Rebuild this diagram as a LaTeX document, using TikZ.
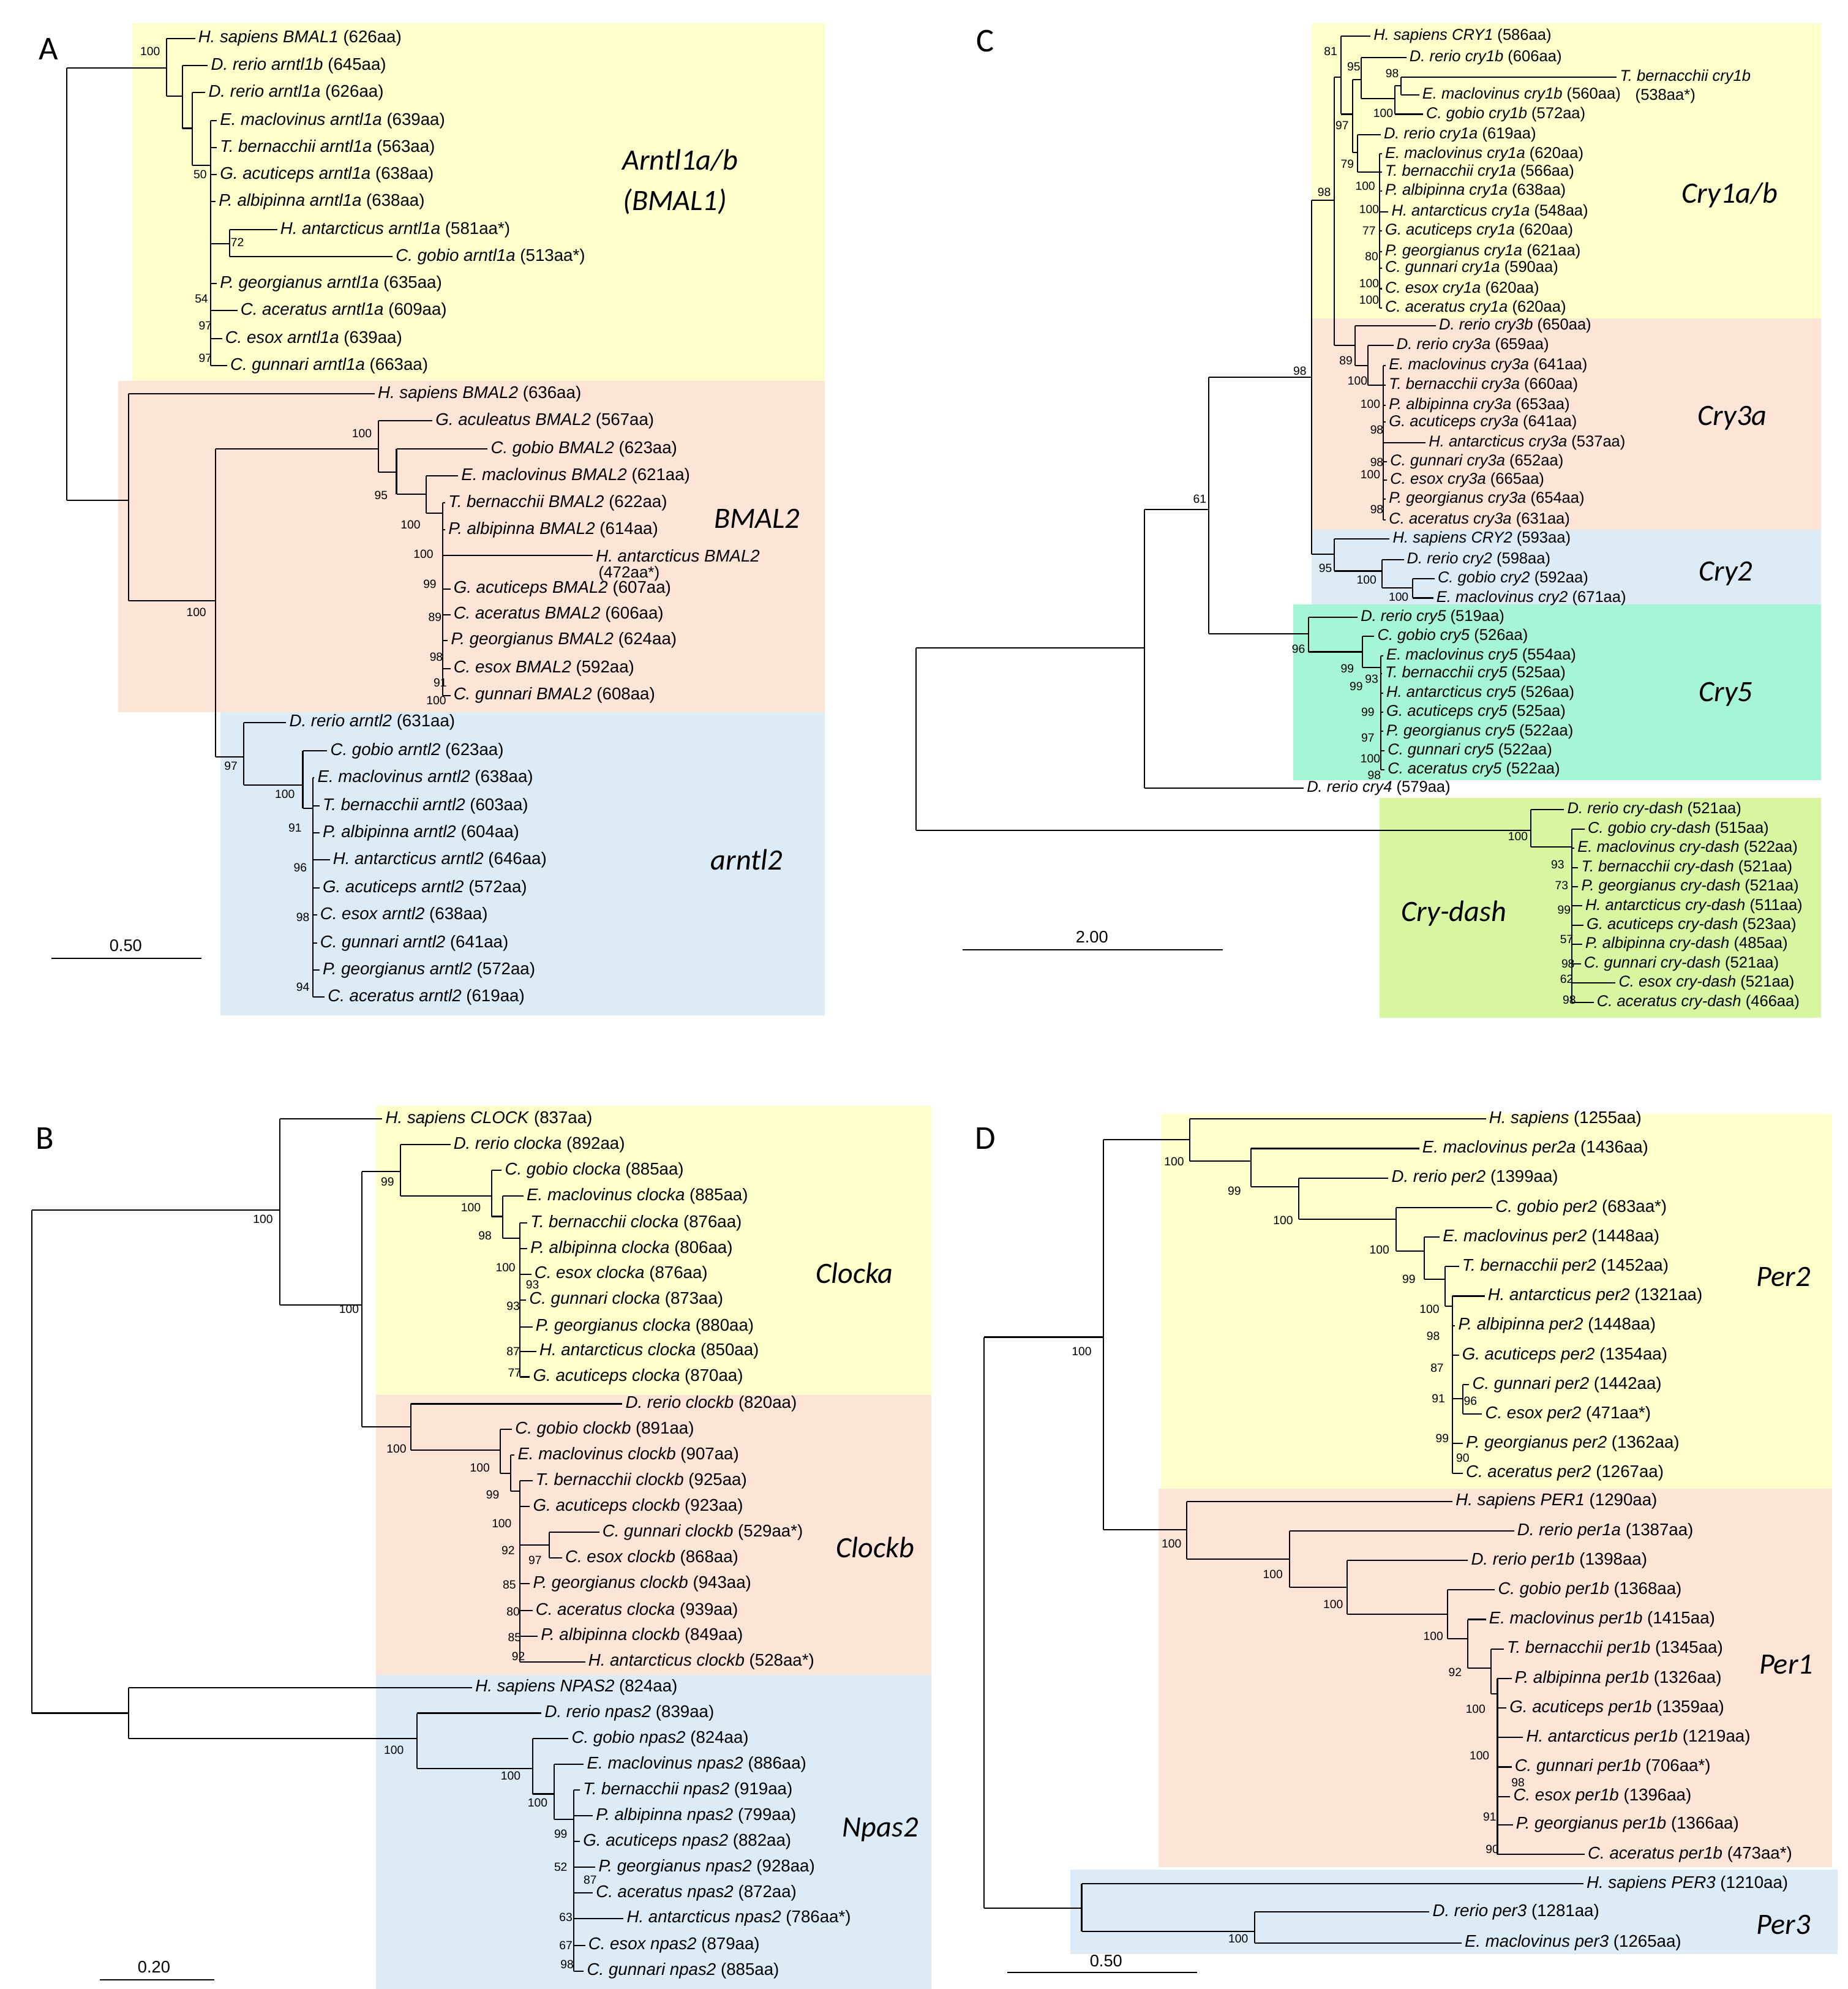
\documentclass[tikz,border=0pt]{standalone}
\usepackage{fontspec}
\setmainfont{Liberation Sans}
\newfontfamily\calfont{Carlito}
\definecolor{yel}{HTML}{FFFFCC}
\definecolor{ora}{HTML}{FCE4D6}
\definecolor{blu}{HTML}{DDEBF7}
\definecolor{cya}{HTML}{A6F5D6}
\definecolor{lim}{HTML}{D8F5A2}
\def\labfont{\fontsize{6.6}{7}\selectfont}
\tikzset{lab/.style={anchor=west,inner sep=1pt,font=\labfont},
 bsl/.style={inner sep=0pt,font=\fontsize{4.6}{5}\selectfont},
 clade/.style={font=\calfont\itshape\fontsize{11.5}{13}\selectfont},
 panel/.style={font=\calfont\fontsize{13}{14}\selectfont},
 sc/.style={font=\fontsize{6.5}{7}\selectfont}}
\newcommand\LF[5]{\draw (#1,#3)--(#2,#3) node[lab]{\textit{#4} #5};}
\newcommand\VL[3]{\draw (#1,#2)--(#1,#3);}
\newcommand\HL[3]{\draw (#1,#3)--(#2,#3);}
\newcommand\BS[3]{\node[bsl] at (#1,#2) {#3};}
\begin{document}
\begin{tikzpicture}[x=0.5pt,y=-0.5pt,line width=0.5pt]
\useasboundingbox (0,0) rectangle (1440,1550);
% boxes
\fill[yel] (103,18) rectangle (643,297);
\fill[ora] (92,297) rectangle (643,555);
\fill[blu] (172,555) rectangle (643,791);
\fill[yel] (1022,18) rectangle (1419,248);
\fill[ora] (1022,248) rectangle (1419,413);
\fill[blu] (1022,413) rectangle (1419,471);
\fill[cya] (1008,471) rectangle (1419,608);
\fill[lim] (1075,622) rectangle (1419,793);
\fill[yel] (293,862) rectangle (726,1087);
\fill[ora] (293,1087) rectangle (726,1305);
\fill[blu] (293,1305) rectangle (726,1552);
\fill[yel] (905,868) rectangle (1428,1160);
\fill[ora] (903,1160) rectangle (1428,1455);
\fill[blu] (834,1457) rectangle (1432,1523);
% panel letters
\node[panel] at (38,38) {A};
\node[panel] at (768,32) {C};
\node[panel] at (35,887) {B};
\node[panel] at (768,887) {D};
% ===== A =====
\VL{52}{53}{390}
\HL{52}{130}{53} \VL{130}{30}{75} \BS{117}{40}{100}
\LF{130}{152}{30}{H. sapiens BMAL1}{(626aa)}
\HL{130}{142}{75} \VL{142}{51}{100}
\LF{142}{162}{51}{D. rerio arntl1b}{(645aa)}
\HL{142}{150}{100} \VL{150}{72}{129}
\LF{150}{160}{72}{D. rerio arntl1a}{(626aa)}
\HL{150}{164}{129} \VL{164}{94}{285}
\LF{164}{169}{94}{E. maclovinus arntl1a}{(639aa)}
\LF{164}{169}{115}{T. bernacchii arntl1a}{(563aa)}
\LF{164}{169}{136}{G. acuticeps arntl1a}{(638aa)}
\LF{164}{168}{157}{P. albipinna arntl1a}{(638aa)}
\HL{164}{179}{190} \VL{179}{179}{200}
\LF{179}{216}{179}{H. antarcticus arntl1a}{(581aa*)}
\LF{179}{306}{200}{C. gobio arntl1a}{(513aa*)}
\LF{164}{169}{221}{P. georgianus arntl1a}{(635aa)}
\LF{164}{185}{242}{C. aceratus arntl1a}{(609aa)}
\LF{164}{173}{264}{C. esox arntl1a}{(639aa)}
\LF{164}{177}{285}{C. gunnari arntl1a}{(663aa)}
\BS{156}{136}{50} \BS{185}{189}{72} \BS{157}{233}{54} \BS{160}{254}{97} \BS{160}{279}{97}
\HL{52}{100}{390} \VL{100}{307}{468}
\LF{100}{292}{307}{H. sapiens BMAL2}{(636aa)}
\HL{100}{168}{468} \BS{153}{477}{100} \VL{168}{350}{590}
\HL{168}{295}{350} \VL{295}{328}{368} \BS{282}{338}{100}
\LF{295}{337}{328}{G. aculeatus BMAL2}{(567aa)}
\HL{295}{309}{368} \VL{309}{350}{385} \BS{297}{386}{95}
\LF{309}{380}{350}{C. gobio BMAL2}{(623aa)}
\HL{309}{332}{385} \VL{332}{371}{400} \BS{320}{409}{100}
\LF{332}{357}{371}{E. maclovinus BMAL2}{(621aa)}
\HL{332}{345}{400} \VL{345}{392}{542}
\LF{345}{347}{392}{T. bernacchii BMAL2}{(622aa)}
\LF{345}{347}{413}{P. albipinna BMAL2}{(614aa)}
\LF{345}{462}{433}{H. antarcticus BMAL2}{}
\node[lab,font=\fontsize{6.2}{6.5}\selectfont] at (464,447) {(472aa*)};
\LF{345}{351}{459}{G. acuticeps BMAL2}{(607aa)}
\LF{345}{351}{479}{C. aceratus BMAL2}{(606aa)}
\LF{345}{349}{499}{P. georgianus BMAL2}{(624aa)}
\LF{345}{351}{521}{C. esox BMAL2}{(592aa)}
\LF{345}{351}{542}{C. gunnari BMAL2}{(608aa)}
\BS{330}{432}{100} \BS{335}{455}{99} \BS{339}{481}{89} \BS{340}{512}{98} \BS{343}{532}{91} \BS{340}{546}{100}
\HL{168}{190}{590} \VL{190}{563}{612} \BS{180}{597}{97}
\LF{190}{223}{563}{D. rerio arntl2}{(631aa)}
\HL{190}{236}{612} \VL{236}{585}{630} \BS{222}{619}{100}
\LF{236}{255}{585}{C. gobio arntl2}{(623aa)}
\HL{236}{244}{630} \VL{244}{606}{777}
\LF{244}{245}{606}{E. maclovinus arntl2}{(638aa)}
\LF{244}{249}{628}{T. bernacchii arntl2}{(603aa)}
\LF{244}{249}{649}{P. albipinna arntl2}{(604aa)}
\LF{244}{257}{670}{H. antarcticus arntl2}{(646aa)}
\LF{244}{249}{692}{G. acuticeps arntl2}{(572aa)}
\LF{244}{247}{713}{C. esox arntl2}{(638aa)}
\LF{244}{247}{735}{C. gunnari arntl2}{(641aa)}
\LF{244}{249}{756}{P. georgianus arntl2}{(572aa)}
\LF{244}{253}{777}{C. aceratus arntl2}{(619aa)}
\BS{230}{645}{91} \BS{234}{676}{96} \BS{236}{715}{98} \BS{236}{769}{94}
\draw (40,747)--(157,747); \node[sc] at (98,737) {0.50};
\node[clade] at (530,125) {Arntl1a/b};
\node[clade] at (526,157) {(BMAL1)};
\node[clade] at (590,404) {BMAL2};
\node[clade] at (582,670) {arntl2};
% ===== B =====
\VL{25}{943}{1335}
\HL{25}{218}{943} \BS{205}{950}{100} \VL{218}{872}{1017}
\LF{218}{298}{872}{H. sapiens CLOCK}{(837aa)}
\HL{218}{282}{1017} \BS{272}{1020}{100} \VL{282}{913}{1112}
\HL{282}{312}{913} \VL{312}{892}{932} \BS{302}{921}{99}
\LF{312}{351}{892}{D. rerio clocka}{(892aa)}
\HL{312}{383}{932} \VL{383}{912}{948} \BS{367}{941}{100}
\LF{383}{391}{912}{C. gobio clocka}{(885aa)}
\HL{383}{392}{948} \VL{392}{932}{965} \BS{378}{963}{98}
\LF{392}{408}{932}{E. maclovinus clocka}{(885aa)}
\HL{392}{405}{965} \VL{405}{953}{1073}
\LF{405}{411}{953}{T. bernacchii clocka}{(876aa)}
\LF{405}{411}{973}{P. albipinna clocka}{(806aa)}
\LF{405}{414}{993}{C. esox clocka}{(876aa)}
\LF{405}{410}{1013}{C. gunnari clocka}{(873aa)}
\LF{405}{415}{1034}{P. georgianus clocka}{(880aa)}
\LF{405}{418}{1053}{H. antarcticus clocka}{(850aa)}
\LF{405}{413}{1073}{G. acuticeps clocka}{(870aa)}
\BS{394}{988}{100} \BS{415}{1001}{93} \BS{400}{1018}{93} \BS{400}{1053}{87} \BS{401}{1070}{77}
\HL{282}{320}{1112} \VL{320}{1094}{1130} \BS{309}{1129}{100}
\LF{320}{485}{1094}{D. rerio clockb}{(820aa)}
\HL{320}{390}{1130} \VL{390}{1114}{1148} \BS{374}{1144}{100}
\LF{390}{399}{1114}{C. gobio clockb}{(891aa)}
\HL{390}{398}{1148} \VL{398}{1134}{1162} \BS{384}{1165}{99}
\LF{398}{401}{1134}{E. maclovinus clockb}{(907aa)}
\HL{398}{405}{1162} \VL{405}{1154}{1295}
\LF{405}{415}{1154}{T. bernacchii clockb}{(925aa)}
\LF{405}{413}{1174}{G. acuticeps clockb}{(923aa)}
\HL{405}{428}{1204} \VL{428}{1194}{1214}
\LF{428}{467}{1194}{C. gunnari clockb}{(529aa*)}
\LF{428}{438}{1214}{C. esox clockb}{(868aa)}
\LF{405}{413}{1234}{P. georgianus clockb}{(943aa)}
\LF{405}{415}{1255}{C. aceratus clocka}{(939aa)}
\LF{405}{419}{1275}{P. albipinna clockb}{(849aa)}
\LF{405}{456}{1295}{H. antarcticus clockb}{(528aa*)}
\BS{391}{1187}{100} \BS{396}{1208}{92} \BS{417}{1216}{97} \BS{397}{1235}{85} \BS{400}{1256}{80} \BS{401}{1276}{85} \BS{404}{1291}{92}
\HL{25}{100}{1335} \VL{100}{1315}{1355}
\LF{100}{368}{1315}{H. sapiens NPAS2}{(824aa)}
\HL{100}{325}{1355} \VL{325}{1335}{1378} \BS{307}{1364}{100}
\LF{325}{422}{1335}{D. rerio npas2}{(839aa)}
\HL{325}{415}{1378} \VL{415}{1355}{1398} \BS{398}{1384}{100}
\LF{415}{443}{1355}{C. gobio npas2}{(824aa)}
\HL{415}{432}{1398} \VL{432}{1375}{1418} \BS{419}{1405}{100}
\LF{432}{455}{1375}{E. maclovinus npas2}{(886aa)}
\HL{432}{447}{1418} \VL{447}{1395}{1536}
\LF{447}{452}{1395}{T. bernacchii npas2}{(919aa)}
\LF{447}{462}{1415}{P. albipinna npas2}{(799aa)}
\LF{447}{452}{1435}{G. acuticeps npas2}{(882aa)}
\LF{447}{464}{1455}{P. georgianus npas2}{(928aa)}
\LF{447}{462}{1475}{C. aceratus npas2}{(872aa)}
\LF{447}{486}{1495}{H. antarcticus npas2}{(786aa*)}
\LF{447}{456}{1516}{C. esox npas2}{(879aa)}
\LF{447}{455}{1536}{C. gunnari npas2}{(885aa)}
\BS{437}{1429}{99} \BS{437}{1455}{52} \BS{460}{1465}{87} \BS{441}{1494}{63} \BS{441}{1516}{67} \BS{442}{1531}{98}
\draw (78,1543)--(167,1543); \node[sc] at (120,1533) {0.20};
\node[clade] at (666,992) {Clocka};
\node[clade] at (682,1206) {Clockb};
\node[clade] at (686,1426) {Npas2};
% ===== D =====
\VL{767}{1042}{1487}
\HL{767}{860}{1042} \BS{843}{1053}{100} \VL{860}{888}{1192}
\HL{860}{927}{888} \BS{915}{905}{100} \VL{927}{872}{905}
\LF{927}{1158}{872}{H. sapiens}{(1255aa)}
\HL{927}{975}{905} \VL{975}{895}{925} \BS{962}{928}{99}
\LF{975}{1106}{895}{E. maclovinus per2a}{(1436aa)}
\HL{975}{1012}{925} \VL{1012}{918}{950} \BS{1000}{951}{100}
\LF{1012}{1082}{918}{D. rerio per2}{(1399aa)}
\HL{1012}{1088}{950} \VL{1088}{941}{975} \BS{1075}{974}{100}
\LF{1088}{1163}{941}{C. gobio per2}{(683aa*)}
\HL{1088}{1110}{975} \VL{1110}{964}{997} \BS{1098}{997}{99}
\LF{1110}{1122}{964}{E. maclovinus per2}{(1448aa)}
\HL{1110}{1126}{997} \VL{1126}{987}{1018} \BS{1114}{1020}{100}
\LF{1126}{1137}{987}{T. bernacchii per2}{(1452aa)}
\HL{1126}{1132}{1018} \VL{1132}{1010}{1148}
\LF{1132}{1157}{1010}{H. antarcticus per2}{(1321aa)}
\LF{1132}{1134}{1033}{P. albipinna per2}{(1448aa)}
\LF{1132}{1137}{1056}{G. acuticeps per2}{(1354aa)}
\HL{1132}{1140}{1090} \VL{1140}{1079}{1102}
\LF{1140}{1145}{1079}{C. gunnari per2}{(1442aa)}
\LF{1140}{1155}{1102}{C. esox per2}{(471aa*)}
\LF{1132}{1140}{1125}{P. georgianus per2}{(1362aa)}
\LF{1132}{1140}{1148}{C. aceratus per2}{(1267aa)}
\BS{1117}{1041}{98} \BS{1120}{1066}{87} \BS{1121}{1090}{91} \BS{1146}{1092}{96} \BS{1124}{1121}{99} \BS{1140}{1136}{90}
\HL{860}{925}{1192} \VL{925}{1170}{1215} \BS{913}{1203}{100}
\LF{925}{1132}{1170}{H. sapiens PER1}{(1290aa)}
\HL{925}{1005}{1215} \VL{1005}{1193}{1237} \BS{992}{1227}{100}
\LF{1005}{1180}{1193}{D. rerio per1a}{(1387aa)}
\HL{1005}{1050}{1237} \VL{1050}{1216}{1258} \BS{1039}{1250}{100}
\LF{1050}{1144}{1216}{D. rerio per1b}{(1398aa)}
\HL{1050}{1128}{1258} \VL{1128}{1239}{1277} \BS{1117}{1275}{100}
\LF{1128}{1165}{1239}{C. gobio per1b}{(1368aa)}
\HL{1128}{1144}{1277} \VL{1144}{1262}{1300} \BS{1134}{1303}{92}
\LF{1144}{1158}{1262}{E. maclovinus per1b}{(1415aa)}
\HL{1144}{1162}{1300} \VL{1162}{1285}{1320}
\LF{1162}{1172}{1285}{T. bernacchii per1b}{(1345aa)}
\HL{1162}{1167}{1320} \VL{1167}{1308}{1445}
\LF{1167}{1178}{1308}{P. albipinna per1b}{(1326aa)}
\LF{1167}{1174}{1331}{G. acuticeps per1b}{(1359aa)}
\LF{1167}{1187}{1354}{H. antarcticus per1b}{(1219aa)}
\LF{1167}{1178}{1377}{C. gunnari per1b}{(706aa*)}
\LF{1167}{1177}{1400}{C. esox per1b}{(1396aa)}
\LF{1167}{1179}{1422}{P. georgianus per1b}{(1366aa)}
\LF{1167}{1235}{1445}{C. aceratus per1b}{(473aa*)}
\BS{1150}{1332}{100} \BS{1153}{1368}{100} \BS{1183}{1389}{98} \BS{1161}{1416}{91} \BS{1163}{1441}{90}
\HL{767}{843}{1487} \VL{843}{1468}{1505}
\LF{843}{1234}{1468}{H. sapiens PER3}{(1210aa)}
\HL{843}{978}{1505} \VL{978}{1490}{1514} \BS{965}{1511}{100}
\LF{978}{1114}{1490}{D. rerio per3}{(1281aa)}
\LF{978}{1139}{1514}{E. maclovinus per3}{(1265aa)}
\draw (785,1537)--(933,1537); \node[sc] at (862,1528) {0.50};
\node[clade] at (1390,995) {Per2};
\node[clade] at (1392,1297) {Per1};
\node[clade] at (1390,1500) {Per3};
% ===== C =====
\def\labfont{\fontsize{6.1}{6.5}\selectfont}
\VL{714}{505}{647}
\HL{714}{892}{505} \VL{892}{397}{614}
\LF{892}{1016}{614}{D. rerio cry4}{(579aa)}
\HL{892}{942}{397} \BS{935}{389}{61} \VL{942}{294}{494}
\HL{942}{1022}{294} \BS{1013}{289}{98} \VL{1022}{156}{432}
\HL{1022}{1040}{156} \BS{1032}{150}{98} \VL{1040}{60}{269}
\HL{1040}{1045}{60} \VL{1045}{28}{89} \BS{1037}{40}{81}
\LF{1045}{1068}{28}{H. sapiens CRY1}{(586aa)}
\HL{1045}{1054}{89} \VL{1054}{62}{119} \BS{1046}{98}{97}
\HL{1054}{1061}{62} \VL{1061}{45}{77} \BS{1055}{52}{95}
\LF{1061}{1096}{45}{D. rerio cry1b}{(606aa)}
\HL{1061}{1087}{77} \VL{1087}{67}{89} \BS{1078}{88}{100}
\HL{1087}{1092}{67} \VL{1092}{60}{74} \BS{1085}{57}{98}
\LF{1092}{1260}{60}{T. bernacchii cry1b}{}
\node[lab] at (1272,75) {(538aa*)};
\LF{1092}{1106}{74}{E. maclovinus cry1b}{(560aa)}
\LF{1087}{1109}{89}{C. gobio cry1b}{(572aa)}
\HL{1054}{1058}{119} \VL{1058}{105}{134} \BS{1050}{128}{79}
\LF{1058}{1076}{105}{D. rerio cry1a}{(619aa)}
\HL{1058}{1075}{134} \VL{1075}{120}{240}
\LF{1075}{1077}{120}{E. maclovinus cry1a}{(620aa)}
\LF{1075}{1077}{134}{T. bernacchii cry1a}{(566aa)}
\LF{1075}{1077}{149}{P. albipinna cry1a}{(638aa)}
\LF{1075}{1082}{165}{H. antarcticus cry1a}{(548aa)}
\LF{1075}{1077}{180}{G. acuticeps cry1a}{(620aa)}
\LF{1075}{1077}{196}{P. georgianus cry1a}{(621aa)}
\LF{1075}{1077}{209}{C. gunnari cry1a}{(590aa)}
\LF{1075}{1077}{225}{C. esox cry1a}{(620aa)}
\LF{1075}{1077}{240}{C. aceratus cry1a}{(620aa)}
\BS{1064}{145}{100} \BS{1067}{163}{100} \BS{1067}{180}{77} \BS{1069}{200}{80} \BS{1067}{221}{100} \BS{1067}{234}{100}
\HL{1040}{1056}{269} \VL{1056}{254}{285} \BS{1049}{281}{89}
\LF{1056}{1119}{254}{D. rerio cry3b}{(650aa)}
\HL{1056}{1066}{285} \VL{1066}{269}{300} \BS{1058}{297}{100}
\LF{1066}{1086}{269}{D. rerio cry3a}{(659aa)}
\HL{1066}{1078}{300} \VL{1078}{285}{405}
\LF{1078}{1080}{285}{E. maclovinus cry3a}{(641aa)}
\LF{1078}{1080}{300}{T. bernacchii cry3a}{(660aa)}
\LF{1078}{1080}{316}{P. albipinna cry3a}{(653aa)}
\LF{1078}{1080}{329}{G. acuticeps cry3a}{(641aa)}
\LF{1078}{1111}{345}{H. antarcticus cry3a}{(537aa)}
\LF{1078}{1081}{360}{C. gunnari cry3a}{(652aa)}
\LF{1078}{1081}{374}{C. esox cry3a}{(665aa)}
\LF{1078}{1080}{389}{P. georgianus cry3a}{(654aa)}
\LF{1078}{1080}{405}{C. aceratus cry3a}{(631aa)}
\BS{1068}{315}{100} \BS{1073}{335}{98} \BS{1073}{360}{98} \BS{1068}{370}{100} \BS{1073}{397}{98}
\HL{1022}{1040}{432} \VL{1040}{420}{445} \BS{1033}{443}{95}
\LF{1040}{1083}{420}{H. sapiens CRY2}{(593aa)}
\HL{1040}{1077}{445} \VL{1077}{436}{458} \BS{1065}{452}{100}
\LF{1077}{1094}{436}{D. rerio cry2}{(598aa)}
\HL{1077}{1101}{458} \VL{1101}{451}{466} \BS{1090}{465}{100}
\LF{1101}{1118}{451}{C. gobio cry2}{(592aa)}
\LF{1101}{1117}{466}{E. maclovinus cry2}{(671aa)}
\HL{942}{1020}{494} \VL{1020}{481}{508} \BS{1012}{506}{96}
\LF{1020}{1058}{481}{D. rerio cry5}{(519aa)}
\HL{1020}{1062}{508} \VL{1062}{496}{520} \BS{1050}{521}{99}
\LF{1062}{1071}{496}{C. gobio cry5}{(526aa)}
\HL{1062}{1076}{520} \VL{1076}{511}{600}
\LF{1076}{1078}{511}{E. maclovinus cry5}{(554aa)}
\LF{1076}{1077}{525}{T. bernacchii cry5}{(525aa)}
\LF{1076}{1078}{540}{H. antarcticus cry5}{(526aa)}
\LF{1076}{1078}{555}{G. acuticeps cry5}{(525aa)}
\LF{1076}{1078}{570}{P. georgianus cry5}{(522aa)}
\LF{1076}{1079}{585}{C. gunnari cry5}{(522aa)}
\LF{1076}{1079}{600}{C. aceratus cry5}{(522aa)}
\BS{1057}{535}{99} \BS{1069}{529}{93} \BS{1066}{555}{99} \BS{1066}{575}{97} \BS{1068}{591}{100} \BS{1071}{604}{98}
\HL{714}{1193}{647} \VL{1193}{631}{660} \BS{1183}{652}{100}
\LF{1193}{1219}{631}{D. rerio cry-dash}{(521aa)}
\HL{1193}{1225}{660} \VL{1225}{646}{781}
\LF{1225}{1235}{646}{C. gobio cry-dash}{(515aa)}
\LF{1225}{1227}{661}{E. maclovinus cry-dash}{(522aa)}
\LF{1225}{1230}{676}{T. bernacchii cry-dash}{(521aa)}
\LF{1225}{1230}{691}{P. georgianus cry-dash}{(521aa)}
\LF{1225}{1233}{706}{H. antarcticus cry-dash}{(511aa)}
\LF{1225}{1234}{721}{G. acuticeps cry-dash}{(523aa)}
\LF{1225}{1233}{736}{P. albipinna cry-dash}{(485aa)}
\LF{1225}{1232}{751}{C. gunnari cry-dash}{(521aa)}
\LF{1225}{1259}{766}{C. esox cry-dash}{(521aa)}
\LF{1225}{1242}{781}{C. aceratus cry-dash}{(466aa)}
\BS{1214}{674}{93} \BS{1217}{690}{73} \BS{1219}{709}{99} \BS{1221}{732}{57} \BS{1222}{751}{98} \BS{1221}{763}{62} \BS{1223}{779}{98}
\draw (750,740)--(953,740); \node[sc] at (851,730) {2.00};
\node[clade] at (1348,152) {Cry1a/b};
\node[clade] at (1350,326) {Cry3a};
\node[clade] at (1345,447) {Cry2};
\node[clade] at (1345,541) {Cry5};
\node[clade] at (1133,712) {Cry-dash};
\end{tikzpicture}
\end{document}
